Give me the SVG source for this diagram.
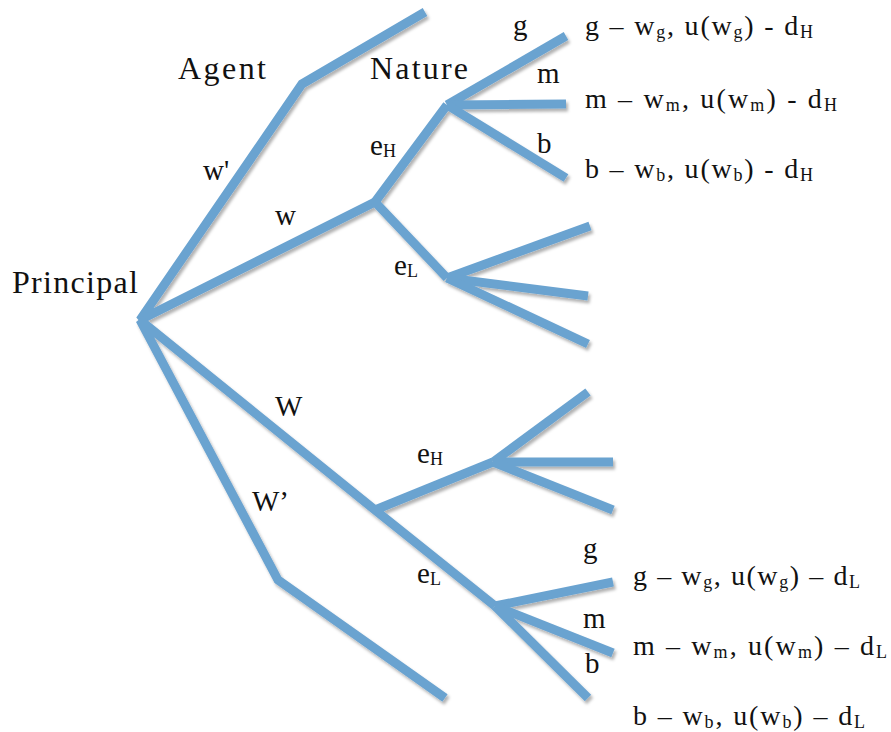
<svg xmlns="http://www.w3.org/2000/svg" width="891" height="732" viewBox="0 0 891 732">
<defs>
<filter id="sh" x="-10%" y="-10%" width="120%" height="120%">
<feDropShadow dx="2" dy="3" stdDeviation="1.5" flood-color="#000" flood-opacity="0.3"/>
</filter>
</defs>
<style>
.e{fill:none;stroke:#6BA3D0;stroke-width:9;stroke-linejoin:miter;stroke-linecap:butt}
text{font-family:"Liberation Serif","DejaVu Serif",serif;fill:#111}
.big{font-size:32px}
.lab{font-size:29px}
.r{font-size:28px}
.s{font-size:18px}
</style>
<rect width="891" height="732" fill="#fff"/>
<g id="connectors" filter="url(#sh)">
<polyline class="e" points="425,12 302,84 140,320 375,202"/>
<polyline class="e" points="447,105 375,202 447,278"/>
<line class="e" x1="447" y1="105" x2="566" y2="36"/>
<line class="e" x1="447" y1="105" x2="566" y2="104"/>
<line class="e" x1="447" y1="105" x2="566" y2="178"/>
<line class="e" x1="447" y1="278" x2="590" y2="226"/>
<line class="e" x1="447" y1="278" x2="588" y2="296"/>
<line class="e" x1="447" y1="278" x2="588" y2="344"/>
<polyline class="e" points="445,698 278,580 140,320 375,510 495,606"/>
<line class="e" x1="375" y1="510" x2="493" y2="462"/>
<line class="e" x1="493" y1="462" x2="588" y2="392"/>
<line class="e" x1="493" y1="462" x2="613" y2="462"/>
<line class="e" x1="493" y1="462" x2="613" y2="510"/>
<line class="e" x1="495" y1="606" x2="613" y2="582"/>
<line class="e" x1="495" y1="606" x2="613" y2="653"/>
<line class="e" x1="495" y1="606" x2="588" y2="698"/>
</g>
<g id="principal"><text class="big" x="12" y="293" textLength="126">Principal</text></g>
<g id="agent"><text class="big" x="178" y="79" textLength="88">Agent</text></g>
<g id="nature"><text class="big" x="370" y="79" textLength="98">Nature</text></g>
<g id="edge-labels">
<text class="lab" x="203" y="180">w'</text>
<text class="lab" x="275" y="225">w</text>
<text class="lab" x="370" y="155">e<tspan class="s" dy="2">H</tspan></text>
<text class="lab" x="394" y="275">e<tspan class="s" dy="2">L</tspan></text>
<text class="lab" x="513" y="35">g</text>
<text class="lab" x="537" y="83">m</text>
<text class="lab" x="537" y="153">b</text>
<text class="lab" x="275" y="416">W</text>
<text class="lab" x="252" y="511">W’</text>
<text class="lab" x="417" y="463">e<tspan class="s" dy="2">H</tspan></text>
<text class="lab" x="417" y="583">e<tspan class="s" dy="2">L</tspan></text>
<text class="lab" x="583" y="558">g</text>
<text class="lab" x="583" y="628">m</text>
<text class="lab" x="585" y="673">b</text>
</g>
<g id="payoffs-H">
<text class="r" x="585" y="35" textLength="228">g – w<tspan class="s" dy="3">g</tspan><tspan dy="-3">, u(w</tspan><tspan class="s" dy="3">g</tspan><tspan dy="-3">) - d</tspan><tspan class="s" dy="3">H</tspan></text>
<text class="r" x="585" y="108" textLength="252">m – w<tspan class="s" dy="3">m</tspan><tspan dy="-3">, u(w</tspan><tspan class="s" dy="3">m</tspan><tspan dy="-3">) - d</tspan><tspan class="s" dy="3">H</tspan></text>
<text class="r" x="585" y="178" textLength="228">b – w<tspan class="s" dy="3">b</tspan><tspan dy="-3">, u(w</tspan><tspan class="s" dy="3">b</tspan><tspan dy="-3">) - d</tspan><tspan class="s" dy="3">H</tspan></text>
</g>
<g id="payoffs-L">
<text class="r" x="633" y="585" textLength="227">g – w<tspan class="s" dy="3">g</tspan><tspan dy="-3">, u(w</tspan><tspan class="s" dy="3">g</tspan><tspan dy="-3">) – d</tspan><tspan class="s" dy="3">L</tspan></text>
<text class="r" x="633" y="655" textLength="254">m – w<tspan class="s" dy="3">m</tspan><tspan dy="-3">, u(w</tspan><tspan class="s" dy="3">m</tspan><tspan dy="-3">) – d</tspan><tspan class="s" dy="3">L</tspan></text>
<text class="r" x="633" y="725" textLength="232">b – w<tspan class="s" dy="3">b</tspan><tspan dy="-3">, u(w</tspan><tspan class="s" dy="3">b</tspan><tspan dy="-3">) – d</tspan><tspan class="s" dy="3">L</tspan></text>
</g>
</svg>
